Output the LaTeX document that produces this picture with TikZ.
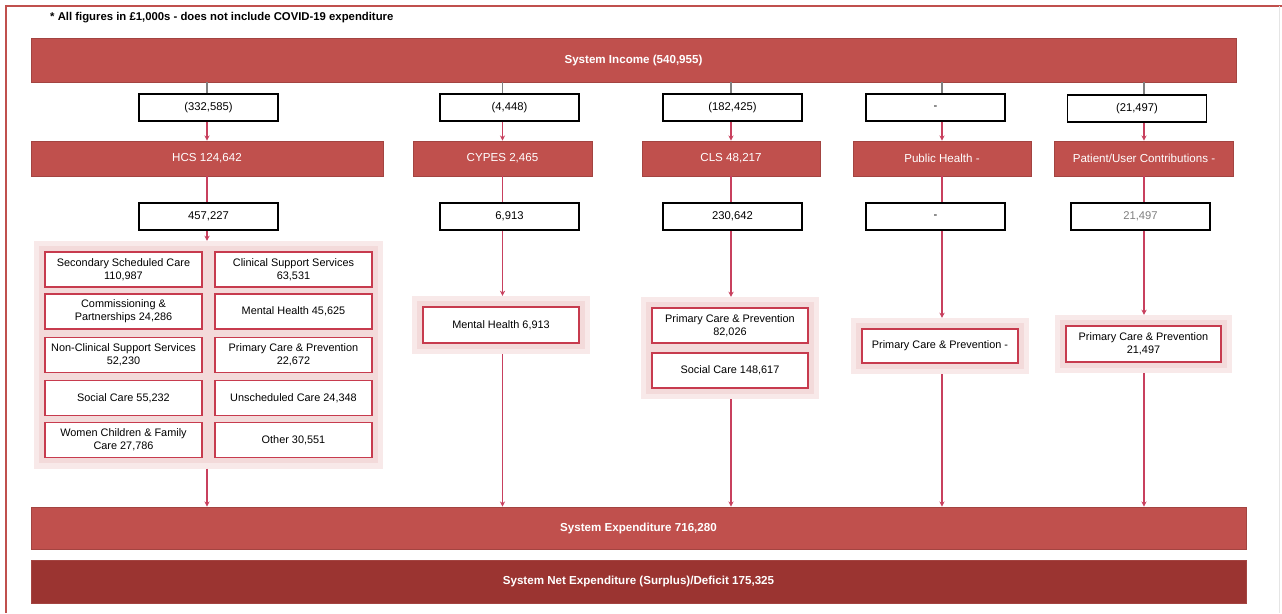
\documentclass[tikz,border=0pt]{standalone}
\usepackage{fontspec}
\setmainfont{Liberation Sans}
\usetikzlibrary{arrows.meta,positioning,fit,backgrounds}
\definecolor{bar-red}{HTML}{C0504D}
\definecolor{net-red}{HTML}{9B3431}
\definecolor{link-red}{HTML}{C8405E}
\definecolor{box-red}{HTML}{C73B4E}
\definecolor{glow-pink}{HTML}{F3DADA}

\begin{document}
\begin{tikzpicture}[>={Stealth[length=3pt,width=3pt]},x=0.02cm,y=-0.02cm,
  bar/.style={fill=bar-red,draw=bar-red!85!black,line width=0.4pt,text=white,
    minimum height=0.7cm,inner sep=0pt,font=\fontsize{6.6}{8}\selectfont},
  topbar/.style={bar,font=\fontsize{6.6}{8}\selectfont\bfseries},
  flow/.style={draw=black,line width=1.1pt,fill=white,minimum width=2.78cm,
    minimum height=0.54cm,inner sep=0pt,font=\fontsize{6.4}{8}\selectfont},
  item/.style={draw=box-red,line width=1.05pt,fill=white,minimum width=3.14cm,
    minimum height=0.7cm,inner sep=1pt,align=center,font=\fontsize{6.2}{7.2}\selectfont},
  grp/.style={fill=glow-pink,draw=glow-pink!60,line width=3pt,inner sep=0.15cm},
  link/.style={draw=link-red,line width=0.6pt},
  feed/.style={draw=gray,line width=0.6pt}]
  \useasboundingbox (0,0) rectangle (1282,613);

  % Rahmen
  \draw[bar-red,line width=0.8pt] (6,613) -- (6,6) -- (1282,6);
  \draw[gray!20,line width=0.5pt] (1279,6) -- (1279,613);

  \node[anchor=west,font=\fontsize{6.45}{8}\selectfont\bfseries] (note) at (44,18)
    {* All figures in £1,000s - does not include COVID-19 expenditure};

  % Einnahmen
  \node[topbar,minimum width=24.1cm,minimum height=0.88cm] (inc) at (633.5,60) {System Income (540,955)};

  \node[flow] (hcsIn) at (208.5,107.5) {(332,585)};
  \node[flow] (cypesIn) at (509.5,107.5) {(4,448)};
  \node[flow] (clsIn) at (732.5,107.5) {(182,425)};
  \node[flow] (phIn) at (935.5,107.5) {-};
  \node[flow] (pucIn) at (1137,108.5) {(21,497)};

  % Bereiche
  \node[bar,minimum width=7.04cm] (hcs) at (207,158.5) {HCS 124,642};
  \node[bar,minimum width=3.58cm] (cypes) at (502.5,158.5) {CYPES 2,465};
  \node[bar,minimum width=3.56cm] (cls) at (731,158.5) {CLS 48,217};
  \node[bar,minimum width=3.56cm] (ph) at (942,158.5) {Public Health -};
  \node[bar,minimum width=3.58cm] (puc) at (1144,158.5) {Patient/User Contributions -};

  \node[flow] (hcsOut) at (208.5,216.5) {457,227};
  \node[flow] (cypesOut) at (509.5,216.5) {6,913};
  \node[flow] (clsOut) at (732.5,216.5) {230,642};
  \node[flow] (phOut) at (935.5,216.5) {-};
  \node[flow,text=gray] (pucOut) at (1140.5,216.5) {21,497};

  % HCS Ausgaben
  \node[item] (ssc) at (123.5,269.5) {Secondary Scheduled Care\\110,987};
  \node[item] (cp) at (123.5,311.5) {Commissioning \&\\Partnerships 24,286};
  \node[item] (ncss) at (123.5,355) {Non-Clinical Support Services\\52,230};
  \node[item] (sc) at (123.5,398) {Social Care 55,232};
  \node[item] (wcf) at (123.5,440) {Women Children \& Family\\Care 27,786};
  \node[item] (css) at (293.5,269.5) {Clinical Support Services\\63,531};
  \node[item] (mh) at (293.5,311.5) {Mental Health 45,625};
  \node[item] (pcp) at (293.5,355) {Primary Care \& Prevention\\22,672};
  \node[item] (usc) at (293.5,398) {Unscheduled Care 24,348};
  \node[item] (oth) at (293.5,440) {Other 30,551};

  % übrige Ausgaben
  \node[item,minimum width=3.12cm,minimum height=0.72cm] (cmh) at (501,325) {Mental Health 6,913};
  \node[item,minimum width=3.12cm] (clpc) at (730,325.5) {Primary Care \& Prevention\\82,026};
  \node[item,minimum width=3.12cm] (clsc) at (730,370.5) {Social Care 148,617};
  \node[item,minimum width=3.12cm,minimum height=0.68cm] (phpc) at (940,346) {Primary Care \& Prevention -};
  \node[item,minimum width=3.1cm,minimum height=0.72cm] (pucpc) at (1143.5,344) {Primary Care \& Prevention\\21,497};

  \begin{scope}[on background layer]
    \node[grp,fit=(ssc)(oth)] (hcsGrp) {};
    \node[grp,fit=(cmh)] (cypesGrp) {};
    \node[grp,fit=(clpc)(clsc)] (clsGrp) {};
    \node[grp,fit=(phpc)] (phGrp) {};
    \node[grp,fit=(pucpc)] (pucGrp) {};
  \end{scope}

  % Ausgaben gesamt
  \node[topbar,minimum width=24.3cm,minimum height=0.84cm] (exp) at (638.5,528) {System Expenditure 716,280};
  \node[topbar,fill=net-red,minimum width=24.3cm,minimum height=0.86cm] (net) at (638.5,581.5)
    {System Net Expenditure (Surplus)/Deficit 175,325};

  % Verbindungen
  \foreach \col in {hcs,cypes,cls,ph,puc} {
    \draw[feed] (inc.south -| \col) -- (\col In.north -| \col);
    \draw[link,->] (\col In.south -| \col) -- (\col.north);
    \draw[link] (\col.south) -- (\col Out.north -| \col);
    \draw[link,->] (\col Out.south -| \col) -- (\col Grp.north -| \col);
    \draw[link,->] (\col Grp.south -| \col) -- (exp.north -| \col);
  }
\end{tikzpicture}
\end{document}
